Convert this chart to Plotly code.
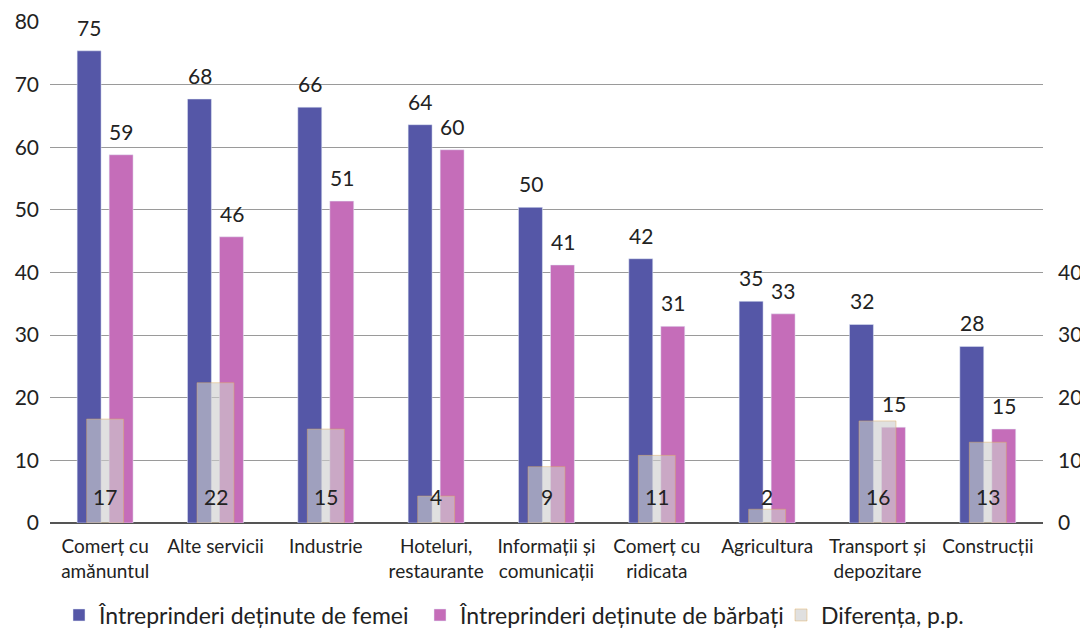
import plotly.graph_objects as go

categories = ["Comerț cu<br>amănuntul", "Alte servicii", "Industrie", "Hoteluri,<br>restaurante",
              "Informații și<br>comunicații", "Comerț cu<br>ridicata", "Agricultura",
              "Transport și<br>depozitare", "Construcții"]
women = [75.4, 67.7, 66.4, 63.6, 50.4, 42.2, 35.4, 31.7, 28.2]
men = [58.8, 45.7, 51.4, 59.6, 41.2, 31.4, 33.4, 15.3, 15.0]
diff = [16.6, 22.4, 15.0, 4.3, 9.0, 10.8, 2.2, 16.3, 12.9]
names = ["Întreprinderi deținute de femei", "Întreprinderi deținute de bărbați", "Diferența, p.p."]
left_ticks = [0, 10, 20, 30, 40, 50, 60, 70, 80]
right_ticks = [0, 10, 20, 30, 40]

FONT = "Lato"
FS = 21
TXT = "#222222"
C_W = "#5557A7"
C_M = "#C56DB9"

fig = go.Figure()
fig.add_trace(go.Bar(x=categories, y=women, name=names[0], marker_color=C_W,
                     width=0.217, offset=-0.254, yaxis="y", legend="legend"))
fig.add_trace(go.Bar(x=categories, y=men, name=names[1], marker_color=C_M,
                     width=0.217, offset=0.036, yaxis="y", legend="legend2"))
fig.add_trace(go.Bar(x=categories, y=diff, name=names[2],
                     marker=dict(color="rgba(205,205,205,0.62)",
                                 line=dict(color="rgba(225,170,90,0.45)", width=1)),
                     width=0.335, offset=-0.1676, yaxis="y2", legend="legend3"))

ann = []
for c, w, m, d in zip(categories, women, men, diff):
    ann.append(dict(x=c, y=w, xref="x", yref="y", text=f"{w:.0f}", showarrow=False,
                    yanchor="bottom", xshift=-16, yshift=9, font=dict(family=FONT, size=FS, color=TXT)))
    ann.append(dict(x=c, y=m, xref="x", yref="y", text=f"{m:.0f}", showarrow=False,
                    yanchor="bottom", xshift=16, yshift=9, font=dict(family=FONT, size=FS, color=TXT)))
    ann.append(dict(x=c, y=0, xref="x", yref="y2", text=f"{d:.0f}", showarrow=False,
                    yanchor="bottom", yshift=12, font=dict(family=FONT, size=FS, color=TXT)))


def leg(x):
    return dict(orientation="h", xref="container", yref="container", x=x, xanchor="left",
                y=0.0365, yanchor="middle", font=dict(family=FONT, size=23, color=TXT),
                itemclick=False, bgcolor="rgba(0,0,0,0)")


fig.update_layout(
    width=1088, height=630,
    margin=dict(l=42, r=53, t=14, b=115),
    paper_bgcolor="white", plot_bgcolor="white",
    barmode="overlay",
    font=dict(family=FONT, size=FS, color=TXT),
    annotations=ann,
    xaxis=dict(type="category", range=[-0.5, 8.5], showgrid=False, ticks="", automargin=False,
               tickfont=dict(family=FONT, size=19, color=TXT), ticklabelstandoff=10),
    yaxis=dict(range=[0, 80], tickvals=left_ticks, showgrid=True, gridcolor="#9a9a9a", gridwidth=1,
               zeroline=True, zerolinecolor="#555555", zerolinewidth=2, automargin=False,
               tickfont=dict(family=FONT, size=FS, color=TXT), ticklabelstandoff=10),
    yaxis2=dict(range=[0, 80], tickvals=right_ticks, overlaying="y", side="right", showgrid=False,
                zeroline=False, automargin=False,
                tickfont=dict(family=FONT, size=FS, color=TXT), ticklabelstandoff=14),
    legend=leg((104 - 8 - 45) / 1088),
    legend2=leg((465 - 8 - 45) / 1088),
    legend3=leg((826 - 8 - 45) / 1088),
    showlegend=True,
)

fig.write_html("out.html")
